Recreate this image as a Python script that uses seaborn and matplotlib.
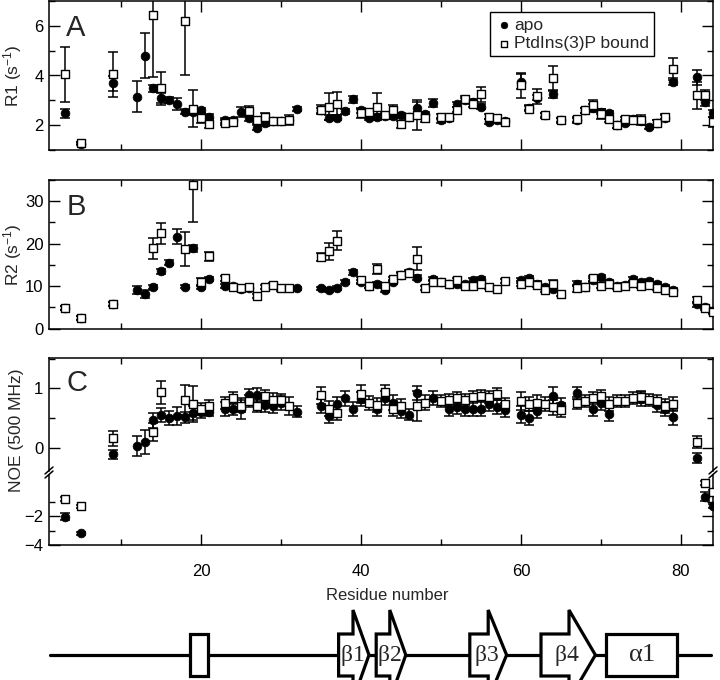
import numpy as np
import pandas as pd
import matplotlib
matplotlib.use("Agg")
import matplotlib.pyplot as plt
from matplotlib.lines import Line2D
from matplotlib.patches import Polygon, Rectangle
from matplotlib.ticker import MultipleLocator, FixedLocator
import seaborn as sns

nan = np.nan

# --- Data ---
residues = [3, 5, 9,
            12, 13, 14, 15, 16, 17, 18, 19, 20, 21,
            23, 24, 25, 26, 27, 28, 29, 30, 31, 32,
            35, 36, 37, 38, 39, 40, 41, 42, 43, 44, 45, 46,
            47, 48, 49, 50, 51, 52, 53, 54, 55, 56, 57, 58,
            60, 61, 62, 63, 64, 65,
            67, 68, 69, 70, 71, 72, 73, 74, 75, 76, 77, 78, 79,
            82, 83, 84]

r1_apo = [2.47, 1.26, 3.68,
          3.14, 4.80, 3.48, 3.08, 3.02, 2.85, 2.54, 2.52, 2.60, 2.33,
          2.20, 2.20, 2.54, 2.27, 1.89, 2.07, 2.15, 2.15, 2.20, 2.67,
          2.60, 2.30, 2.30, 2.56, 3.04, 2.60, 2.30, 2.33, 2.35, 2.35, 2.40, 2.33,
          2.70, 2.45, 2.90, 2.20, 2.30, 2.85, 3.00, 2.95, 2.74, 2.13, 2.20, 2.15,
          3.75, 2.70, 3.10, 2.40, 3.25, 2.20,
          2.20, 2.60, 2.70, 2.55, 2.47, 2.00, 2.10, 2.25, 2.15, 1.93, 2.10, 2.30, 3.75,
          3.92, 2.94, 2.47]
r1_apo_err = [0.20, 0.05, 0.30,
              0.62, 0.90, 0.15, 0.20, 0.12, 0.25, 0.10, 0.10, 0.10, 0.10,
              0.10, 0.10, 0.20, 0.10, 0.10, 0.10, 0.10, 0.10, 0.10, 0.08,
              0.10, 0.10, 0.10, 0.10, 0.15, 0.10, 0.10, 0.10, 0.10, 0.10, 0.10, 0.10,
              0.25, 0.10, 0.15, 0.10, 0.10, 0.10, 0.10, 0.10, 0.10, 0.10, 0.10, 0.10,
              0.30, 0.10, 0.10, 0.08, 0.15, 0.08,
              0.10, 0.10, 0.15, 0.10, 0.10, 0.10, 0.10, 0.10, 0.10, 0.08, 0.10, 0.10, 0.15,
              0.30, 0.15, 0.15]
r1_bound = [4.05, 1.28, 4.05,
            nan, nan, 6.43, 3.48, nan, nan, 6.20, 2.67, 2.27, 2.03,
            2.10, 2.13, nan, 2.56, 2.20, 2.33, 2.17, 2.17, 2.20, nan,
            2.63, 2.74, 2.87, nan, nan, 2.47, 2.54, 2.74, 2.40, 2.60, 2.03, 2.33,
            2.40, 2.27, nan, 2.33, 2.33, 2.63, 3.06, 2.85, 3.25, 2.33, 2.27, 2.13,
            3.60, 2.67, 3.17, 2.40, 3.88, 2.20,
            2.23, 2.60, 2.80, 2.44, 2.23, 2.00, 2.23, 2.20, 2.20, nan, 2.10, 2.33, 4.26,
            3.20, 3.20, 2.13]
r1_bound_err = [1.10, 0.05, 0.90,
                0, 0, 2.50, 0.65, 0, 0, 2.20, 0.75, 0.20, 0.15,
                0.10, 0.10, 0, 0.20, 0.10, 0.15, 0.10, 0.10, 0.20, 0,
                0.20, 0.55, 0.45, 0, 0, 0.20, 0.10, 0.55, 0.10, 0.20, 0.15, 0.10,
                0.60, 0.15, 0, 0.10, 0.10, 0.10, 0.10, 0.10, 0.30, 0.10, 0.10, 0.10,
                0.50, 0.10, 0.30, 0.10, 0.50, 0.10,
                0.10, 0.10, 0.20, 0.20, 0.10, 0.10, 0.10, 0.10, 0.20, 0, 0.10, 0.10, 0.45,
                0.55, 0.20, 0.20]

r2_apo = [4.75, 2.50, 5.70,
          9.06, 8.10, 9.85, 13.5, 15.5, 21.6, 9.85, 18.9, 9.85, 11.6,
          10.1, 10.0, 9.30, 9.50, nan, nan, nan, nan, nan, 9.45,
          9.45, 9.06, 9.50, 10.9, 13.2, 11.0, 10.0, 10.4, 9.06, 11.0, 12.5, 13.4,
          12.0, nan, 11.6, 11.0, 10.5, 10.5, 10.5, 11.4, 11.6, nan, nan, nan,
          11.4, 11.8, 10.6, 9.80, 9.30, nan,
          10.6, 9.80, 11.4, 12.1, 11.0, 10.1, 10.3, 11.6, 11.0, 11.2, 10.5, 9.80, 9.00,
          5.70, 5.00, 4.20]
r2_apo_err = [0.5, 0.4, 0.5,
              1.0, 1.0, 0.5, 0.6, 0.6, 1.8, 0.4, 0.8, 0.5, 0.5,
              0.5, 0.5, 0.5, 0.5, 0, 0, 0, 0, 0, 0.4,
              0.4, 0.4, 0.4, 0.5, 0.6, 0.5, 0.5, 0.5, 0.5, 0.5, 0.5, 0.5,
              0.6, 0, 0.5, 0.5, 0.5, 0.5, 0.5, 0.5, 0.5, 0, 0, 0,
              0.6, 0.6, 0.5, 0.5, 0.5, 0,
              0.5, 0.5, 0.5, 0.6, 0.5, 0.5, 0.5, 0.5, 0.5, 0.5, 0.5, 0.5, 0.5,
              0.6, 0.5, 0.5]
r2_bound = [4.75, 2.50, 5.70,
            nan, nan, 18.9, 22.4, nan, nan, 18.7, 33.8, 11.0, 17.0,
            11.8, 9.85, 9.60, 9.80, 7.65, 9.70, 10.2, 9.45, 9.45, nan,
            16.9, 18.2, 20.7, nan, nan, 11.4, 10.1, 14.0, 10.0, 11.6, 12.7, 13.0,
            16.4, 9.60, 11.0, 11.0, 10.5, 11.4, 10.1, 10.1, 10.5, 9.70, 9.40, 11.2,
            10.6, 10.9, 10.3, 9.00, 10.6, 8.10,
            9.50, 9.80, 11.8, 10.1, 10.6, 9.80, 10.1, 10.8, 10.1, 10.3, 9.60, 9.10, 8.70,
            6.70, 4.75, 3.95]
r2_bound_err = [0.5, 0.4, 0.5,
                0, 0, 2.5, 2.5, 0, 0, 4.0, 8.8, 1.0, 1.0,
                0.6, 0.5, 0.5, 0.5, 0.5, 0.5, 0.5, 0.5, 0.5, 0,
                1.0, 2.0, 2.3, 0, 0, 0.7, 0.5, 1.2, 0.5, 0.5, 0.5, 0.5,
                2.7, 0.5, 0.5, 0.5, 0.5, 0.5, 0.5, 0.5, 0.5, 0.5, 0.5, 0.5,
                0.5, 0.5, 0.5, 0.5, 0.8, 0.5,
                0.8, 0.5, 0.5, 0.5, 0.5, 0.5, 0.5, 0.5, 0.5, 0.5, 0.5, 0.5, 0.5,
                0.7, 0.5, 0.5]

noe_apo = [-2.04, -3.20, -0.11,
           0.03, 0.10, 0.46, 0.55, 0.50, 0.53, 0.51, 0.58, 0.60, 0.61,
           0.65, 0.65, 0.66, 0.89, 0.89, 0.72, 0.70, 0.75, nan, 0.61,
           0.70, 0.53, 0.74, 0.83, 0.65, 0.82, nan, 0.65, 0.84, 0.76, 0.62, 0.56,
           0.92, nan, 0.84, nan, 0.66, 0.69, 0.66, 0.66, 0.66, 0.74, 0.69, 0.64,
           0.56, 0.50, 0.62, nan, 0.87, 0.72,
           0.92, nan, 0.65, 0.76, 0.57, nan, nan, nan, 0.82, nan, 0.72, 0.65, 0.51,
           -0.17, -0.65, -1.30]
noe_apo_err = [0.25, 0.10, 0.08,
               0.17, 0.20, 0.12, 0.12, 0.12, 0.15, 0.10, 0.12, 0.10, 0.08,
               0.12, 0.10, 0.18, 0.10, 0.12, 0.12, 0.12, 0.12, 0, 0.10,
               0.12, 0.12, 0.12, 0.12, 0.12, 0.12, 0, 0.12, 0.12, 0.12, 0.12, 0.10,
               0.12, 0, 0.12, 0, 0.12, 0.12, 0.12, 0.12, 0.12, 0.12, 0.12, 0.12,
               0.15, 0.12, 0.12, 0, 0.15, 0.12,
               0.10, 0, 0.12, 0.12, 0.12, 0, 0, 0, 0.12, 0, 0.12, 0.12, 0.12,
               0.08, 0.30, 0.15]
noe_bound = [-0.80, -1.33, 0.16,
             nan, nan, 0.27, 0.93, nan, nan, 0.80, 0.74, 0.65, 0.70,
             0.75, 0.83, 0.70, 0.79, 0.70, 0.87, 0.80, 0.80, 0.70, nan,
             0.88, 0.66, 0.59, nan, nan, 0.90, 0.75, 0.72, 0.93, 0.66, 0.70, nan,
             0.70, 0.76, nan, 0.79, 0.81, 0.83, 0.80, 0.86, 0.87, 0.86, 0.90, 0.74,
             0.79, 0.74, 0.76, 0.74, 0.68, 0.64,
             0.76, 0.78, 0.84, 0.87, 0.74, 0.79, 0.79, 0.83, 0.86, 0.80, 0.79, 0.70, 0.74,
             0.10, 0.28, -0.35]
noe_bound_err = [0.15, 0.12, 0.13,
                 0, 0, 0.15, 0.20, 0, 0, 0.25, 0.30, 0.10, 0.10,
                 0.10, 0.10, 0.10, 0.10, 0.10, 0.10, 0.12, 0.10, 0.15, 0,
                 0.15, 0.12, 0.12, 0, 0, 0.15, 0.12, 0.12, 0.12, 0.12, 0.12, 0,
                 0.25, 0.12, 0, 0.10, 0.10, 0.10, 0.10, 0.10, 0.10, 0.10, 0.10, 0.10,
                 0.15, 0.12, 0.12, 0.12, 0.12, 0.12,
                 0.10, 0.10, 0.10, 0.10, 0.12, 0.10, 0.10, 0.10, 0.10, 0.10, 0.10, 0.12, 0.12,
                 0.10, 0.12, 0.15]
# residues whose NOE is drawn on the compressed lower segment
noe_low_residues = [3, 5, 83, 84]

# secondary structure (start, head start, end residue)
chain_span = (1.1, 83.7)
boxes = [(18.6, 20.9), (70.6, 79.5)]
box_labels = ["", r"$\alpha$1"]
strands = [(37.2, 39.0, 41.0), (41.9, 43.6, 45.6), (53.6, 55.9, 58.2), (62.5, 66.0, 69.3)]
strand_labels = [r"$\beta$1", r"$\beta$2", r"$\beta$3", r"$\beta$4"]

# --- Styling ---
sns.set_theme(style="ticks")
plt.rcParams['font.family'] = ['Liberation Sans', 'DejaVu Sans']
plt.rcParams['mathtext.default'] = 'regular'
plt.rcParams['axes.edgecolor'] = 'black'
plt.rcParams['axes.linewidth'] = 1.1
plt.rcParams['xtick.color'] = 'black'
plt.rcParams['ytick.color'] = 'black'

fig = plt.figure(figsize=(7.2, 6.8), dpi=100)
L, W = 49 / 720, 664 / 720


def fy(px):
    return 1 - px / 680


axA = fig.add_axes([L, fy(150), W, 149 / 680])
axB = fig.add_axes([L, fy(328.5), W, 148.5 / 680])
axC = fig.add_axes([L, fy(471), W, 113 / 680])
axC2 = fig.add_axes([L, fy(545), W, 70 / 680])
axS = fig.add_axes([L, 0, W, 90 / 680])

res = np.array(residues, dtype=float)
low = np.isin(res, noe_low_residues)


def draw(ax, x, y, err, kind, label=None):
    y = np.asarray(y, float)
    err = np.asarray(err, float)
    ok = ~np.isnan(y)
    ax.errorbar(x[ok], y[ok], yerr=err[ok], fmt='none', ecolor='black',
                elinewidth=1.1, capsize=3.8, capthick=1.1, zorder=2)
    df = pd.DataFrame({'res': x[ok], 'val': y[ok]})
    if kind == 'apo':
        sns.scatterplot(data=df, x='res', y='val', ax=ax, marker='o', s=40,
                        color='black', edgecolor='black', linewidth=0.5,
                        label=label, zorder=3)
    else:
        sns.scatterplot(data=df, x='res', y='val', ax=ax, marker='s', s=28,
                        color='white', edgecolor='black', linewidth=1.0,
                        label=label, zorder=4)


draw(axA, res, r1_apo, r1_apo_err, 'apo', 'apo')
draw(axA, res, r1_bound, r1_bound_err, 'bound', 'PtdIns(3)P bound')
draw(axB, res, r2_apo, r2_apo_err, 'apo')
draw(axB, res, r2_bound, r2_bound_err, 'bound')

na, nae = np.array(noe_apo), np.array(noe_apo_err)
nb, nbe = np.array(noe_bound), np.array(noe_bound_err)
draw(axC, res[~low], na[~low], nae[~low], 'apo')
draw(axC, res[~low], nb[~low], nbe[~low], 'bound')
draw(axC2, res[low], na[low], nae[low], 'apo')
draw(axC2, res[low], nb[low], nbe[low], 'bound')

# --- Axes formatting ---
for ax in (axA, axB, axC, axC2):
    ax.set_xlim(1, 84)
    ax.xaxis.set_major_locator(MultipleLocator(20))
    ax.xaxis.set_minor_locator(MultipleLocator(10))
    ax.tick_params(which='both', direction='in', top=True, right=True,
                   labelsize=12, width=1.0, pad=4)
    ax.tick_params(which='major', length=8)
    ax.tick_params(which='minor', length=4.5)
    ax.set_xlabel('')
    ax.set_ylabel('')
    ax.tick_params(axis='x', labelbottom=False)

axA.set_ylim(1, 7)
axA.yaxis.set_major_locator(FixedLocator([2, 4, 6]))
axA.yaxis.set_minor_locator(FixedLocator([1, 3, 5, 7]))
axB.set_ylim(0, 35)
axB.yaxis.set_major_locator(MultipleLocator(10))
axB.yaxis.set_minor_locator(MultipleLocator(5))
axC.set_ylim(-0.39, 1.51)
axC.yaxis.set_major_locator(FixedLocator([0, 1]))
axC.yaxis.set_minor_locator(FixedLocator([0.5, 1.5]))
axC2.set_ylim(-4, 0.85)
axC2.yaxis.set_major_locator(FixedLocator([-4, -2]))
axC2.yaxis.set_minor_locator(FixedLocator([-3, -1]))

axC.spines['bottom'].set_visible(False)
axC.tick_params(axis='x', which='both', bottom=False)
axC2.spines['top'].set_visible(False)
axC2.tick_params(axis='x', which='both', top=False, labelbottom=True, pad=14)

axA.set_ylabel('R1 (s$^{-1}$)', fontsize=12.5)
axB.set_ylabel('R2 (s$^{-1}$)', fontsize=12.5)
axC.set_ylabel('NOE (500 MHz)', fontsize=12.5)
for ax in (axA, axB):
    ax.yaxis.set_label_coords(-0.037, 0.5)
axC.yaxis.set_label_coords(-0.037, 0.36)
axC2.set_xlabel('Residue number', fontsize=12)
axC2.xaxis.set_label_coords(0.51, -0.62)

for ax, letter, ytop in ((axA, 'A', 0.91), (axB, 'B', 0.915), (axC, 'C', 0.9)):
    ax.text(0.026, ytop, letter, transform=ax.transAxes, fontsize=21,
            va='top', ha='left')

leg = axA.legend(loc='upper left', bbox_to_anchor=(0.664, 0.925), frameon=True,
                 fancybox=False, edgecolor='black', framealpha=1, fontsize=12.5,
                 borderpad=0.3, handletextpad=0.1, handlelength=1.0,
                 labelspacing=0.2, markerscale=0.75, borderaxespad=0)
leg.get_frame().set_linewidth(1.0)

# axis break marks
for xpx in (49, 713):
    for dy in (-2, 2):
        x0, y0 = (xpx - 4) / 720, fy(476 + dy)
        x1, y1 = (xpx + 4) / 720, fy(469 + dy)
        fig.add_artist(Line2D([x0, x1], [y0, y1], color='black', lw=1.1))

# --- Secondary structure diagram ---
axS.set_xlim(1, 84)
axS.set_ylim(-25, 65)
axS.axis('off')
axS.plot(chain_span, [0, 0], color='black', lw=2.3, zorder=1)
for (b0, b1), lab in zip(boxes, box_labels):
    axS.add_patch(Rectangle((b0, -21), b1 - b0, 42, facecolor='white',
                            edgecolor='black', lw=2.3, zorder=2))
    if lab:
        axS.text((b0 + b1) / 2, 0, lab, ha='center', va='center', fontsize=19,
                 family=['Liberation Serif', 'DejaVu Serif'], zorder=3)
for (s0, sh, s1), lab in zip(strands, strand_labels):
    pts = [(s0, -21), (sh, -21), (sh, -45), (s1, 0), (sh, 45), (sh, 21), (s0, 21)]
    axS.add_patch(Polygon(pts, closed=True, facecolor='white', edgecolor='black',
                          lw=2.3, joinstyle='miter', zorder=2))
    axS.text((s0 + s1) / 2 - 0.2, 0, lab, ha='center', va='center', fontsize=17,
             family=['Liberation Serif', 'DejaVu Serif'], zorder=3)

fig.savefig('out.png', dpi=100)
